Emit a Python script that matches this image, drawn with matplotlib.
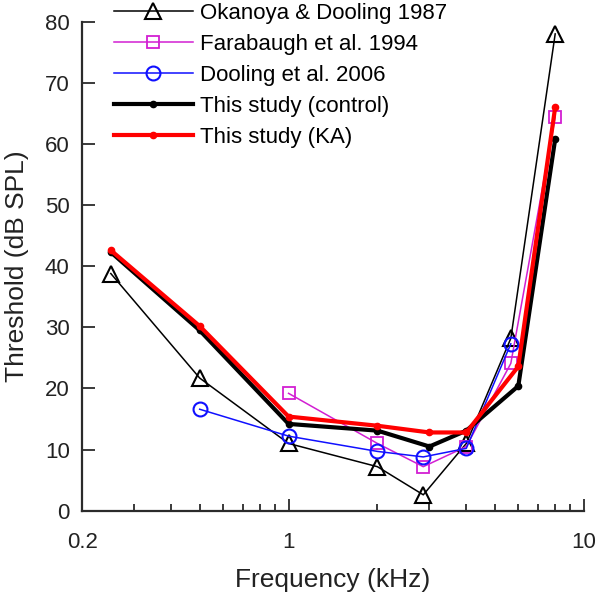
import numpy as np
import matplotlib
matplotlib.use("Agg")
import matplotlib.pyplot as plt
from matplotlib.ticker import FixedLocator, NullFormatter

plt.rcParams["font.family"] = ["Liberation Sans", "DejaVu Sans"]

# Data (frequency in kHz, threshold in dB SPL)
okanoya_f = [0.25, 0.5, 1, 2, 2.86, 4, 5.66, 8]
okanoya_t = [38.8, 21.7, 11.0, 7.2, 2.6, 11.0, 28.2, 78.0]

farabaugh_f = [1, 2, 2.86, 4, 5.66, 8]
farabaugh_t = [19.2, 11.0, 7.2, 10.5, 24.1, 64.4]

dooling_f = [0.5, 1, 2, 2.86, 4, 5.66]
dooling_t = [16.6, 12.2, 9.7, 8.8, 10.2, 27.3]

study_f = [0.25, 0.5, 1, 2, 3, 4, 6, 8]
control_t = [42.3, 29.5, 14.2, 13.1, 10.5, 13.1, 20.4, 60.8]
ka_t = [42.6, 30.2, 15.4, 13.9, 12.8, 12.8, 23.6, 66.0]

labels = ["Okanoya & Dooling 1987", "Farabaugh et al. 1994",
          "Dooling et al. 2006", "This study (control)", "This study (KA)"]

fig = plt.figure(figsize=(6.0, 5.99), dpi=100)
ax = fig.add_axes([0.137, 0.1474, 0.836, 0.8164])

magenta = "#d21fd2"
blue = "#1010ff"

ax.plot(okanoya_f, okanoya_t, color="black", lw=1.1, marker="^", ms=12,
        mfc="none", mec="black", mew=1.5, label=labels[0])
ax.plot(farabaugh_f, farabaugh_t, color=magenta, lw=1.1, marker="s", ms=9,
        mfc="none", mec=magenta, mew=1.3, label=labels[1])
ax.plot(dooling_f, dooling_t, color=blue, lw=1.1, marker="o", ms=10,
        mfc="none", mec=blue, mew=1.5, label=labels[2])
ax.plot(study_f, control_t, color="black", lw=3.0, marker="o", ms=4.5,
        label=labels[3])
ax.plot(study_f, ka_t, color="#ff0000", lw=3.0, marker="o", ms=4.5,
        label=labels[4])

ax.set_xscale("log")
ax.set_xlim(0.2, 10)
ax.set_ylim(0, 80)

ax.xaxis.set_major_locator(FixedLocator([0.2, 1, 10]))
ax.xaxis.set_major_formatter(plt.FixedFormatter(["0.2", "1", "10"]))
minor = [0.3, 0.4, 0.5, 0.6, 0.7, 0.8, 0.9, 2, 3, 4, 5, 6, 7, 8, 9]
ax.xaxis.set_minor_locator(FixedLocator(minor))
ax.xaxis.set_minor_formatter(NullFormatter())
ax.set_yticks(np.arange(0, 81, 10))

axcol = "#2b2b2b"
for side in ("top", "right"):
    ax.spines[side].set_visible(False)
for side in ("left", "bottom"):
    ax.spines[side].set_color(axcol)
    ax.spines[side].set_linewidth(1.6)

ax.tick_params(axis="both", which="major", direction="in", length=9,
               width=1.3, color=axcol, labelsize=16, labelcolor="#222222")
ax.tick_params(axis="x", which="major", pad=15)
ax.tick_params(axis="y", which="major", pad=9)
ax.tick_params(axis="x", which="minor", direction="in", length=5,
               width=1.3, color=axcol)

ax.set_xlabel("Frequency (kHz)", fontsize=19, color="#222222")
ax.set_ylabel("Threshold (dB SPL)", fontsize=19, color="#222222")
ax.xaxis.set_label_coords(0.5, -0.118)
ax.yaxis.set_label_coords(-0.107, 0.5)

ax.legend(loc="upper left", bbox_to_anchor=(0.19, 0.995),
          bbox_transform=fig.transFigure, frameon=False, borderpad=0,
          borderaxespad=0, fontsize=16, handlelength=3.55,
          handletextpad=0.3, labelspacing=0.45, numpoints=1)

fig.savefig("out.png", dpi=100)
